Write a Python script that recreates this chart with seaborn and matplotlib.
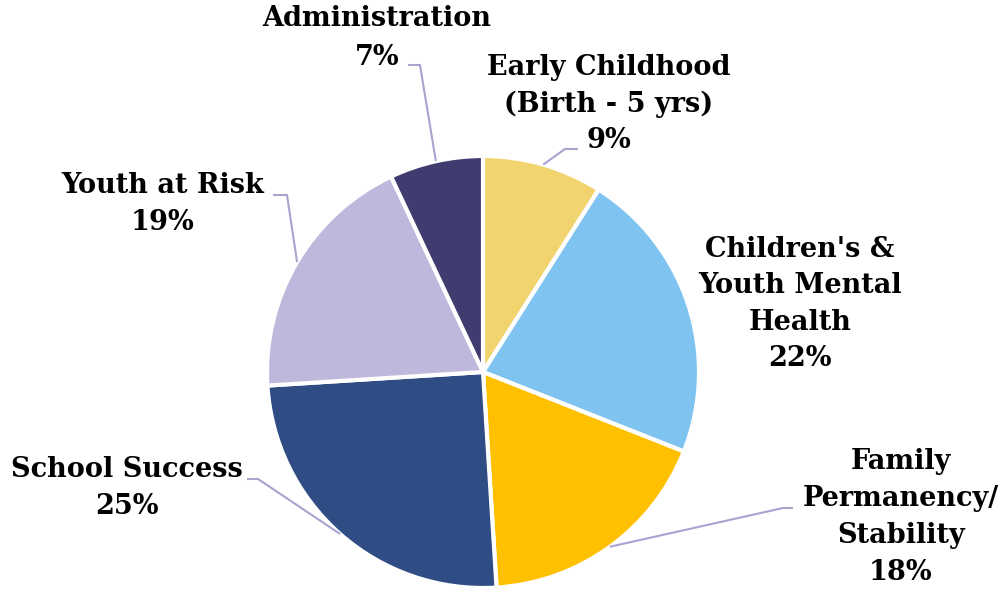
import numpy as np
import matplotlib
matplotlib.use("Agg")
import matplotlib.pyplot as plt
import seaborn as sns

# Budget share by program area (percent), clockwise from 12 o'clock
categories = [
    "Early Childhood\n(Birth - 5 yrs)",
    "Children's &\nYouth Mental\nHealth",
    "Family\nPermanency/\nStability",
    "School Success",
    "Youth at Risk",
    "Administration",
]
shares = [9, 22, 18, 25, 19, 7]
colors = ["#F2D46E", "#7FC4F0", "#FFC000", "#2F4D84", "#BFB8DC", "#403C70"]

sns.set_style("white")
plt.rcParams["font.family"] = ["DejaVu Serif"]

W, H = 1007, 590
fig = plt.figure(figsize=(W / 100, H / 100), dpi=100)
ax = fig.add_axes([0, 0, 1, 1])


def py(y):
    """Convert a top-down pixel row into axis y."""
    return H - y


cx, cy, r = 483, py(372), 216
wedges, _ = ax.pie(
    shares, colors=colors, startangle=90, counterclock=False,
    center=(cx, cy), radius=r, frame=True,
    wedgeprops=dict(edgecolor="white", linewidth=3),
)
ax.set_xlim(0, W)
ax.set_ylim(0, H)
ax.set_aspect("equal")
ax.axis("off")

# label block centre (x, y), line spacing and leader elbow + end, in pixel rows
layout = {
    0: dict(pos=(609, 104), ls=1.45, elbow=[(565, 149), (578, 149)]),
    1: dict(pos=(800, 304), ls=1.45, elbow=None),
    2: dict(pos=(901, 517), ls=1.48, elbow=[(783, 508), (793, 508)]),
    3: dict(pos=(127, 488), ls=1.45, elbow=[(258, 479), (247, 479)]),
    4: dict(pos=(163, 204), ls=1.45, elbow=[(287, 195), (273, 195)]),
    5: dict(pos=(377, 38), ls=1.6, elbow=[(420, 65), (408, 65)]),
}

lead_color = "#A9A3D0"
for i, (w, lab, val) in enumerate(zip(wedges, categories, shares)):
    mid = np.deg2rad((w.theta1 + w.theta2) / 2)
    ax_, ay_ = cx + r * np.cos(mid), cy + r * np.sin(mid)
    spec = layout[i]
    if spec["elbow"]:
        xs = [ax_] + [p[0] for p in spec["elbow"]]
        ys = [ay_] + [py(p[1]) for p in spec["elbow"]]
        ax.plot(xs, ys, color=lead_color, lw=1.5, solid_capstyle="butt", zorder=1)
    x, y = spec["pos"]
    ax.text(x, py(y), f"{lab}\n{val}%", ha="center", va="center",
            fontsize=19.5, fontweight="bold", color="black",
            linespacing=spec["ls"], multialignment="center")

fig.savefig("out.png", dpi=100)
